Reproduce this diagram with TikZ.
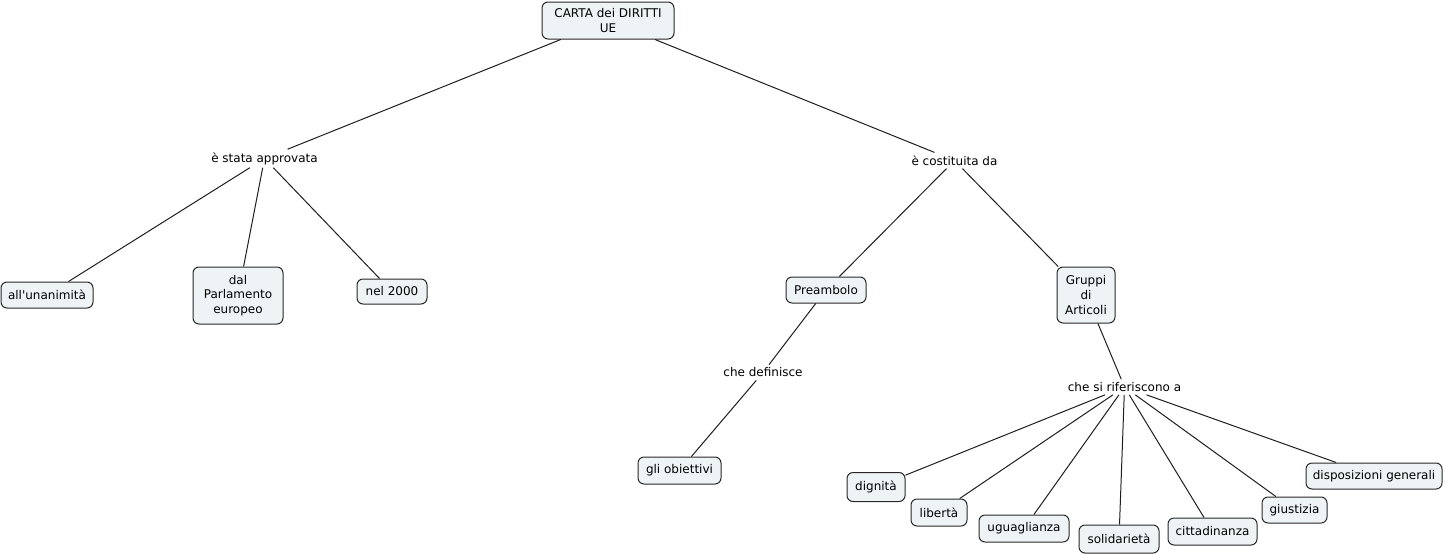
\documentclass[tikz,border=0pt]{standalone}
\usepackage{fontspec}
\newfontfamily\dvs{DejaVu Sans}
\definecolor{conceptfill}{RGB}{238,243,246}
\definecolor{conceptdraw}{RGB}{40,40,40}
\definecolor{linkcol}{RGB}{30,30,30}
\begin{document}
\begin{tikzpicture}[x=0.75pt,y=-0.75pt,
  every node/.style={font=\dvs\fontsize{9}{10.9}\selectfont},
  concept/.style={draw=conceptdraw,fill=conceptfill,rounded corners=4.5pt,line width=0.75pt,align=center,inner sep=0pt},
  sz/.style 2 args={minimum width=#1*0.75pt,minimum height=#2*0.75pt},
  linkphrase/.style={inner sep=2.2pt,align=center},
  conn/.style={draw=linkcol,line width=0.75pt}]
\useasboundingbox (0,0) rectangle (1445,554);
% concepts
\node[concept,sz={132}{37}] (carta) at (608,20.5) {CARTA dei DIRITTI\\UE};
\node[concept,sz={92}{26}] (unan) at (47,295) {all'unanimità};
\node[concept,sz={90}{57}] (parl) at (238,295.5) {dal\\Parlamento\\europeo};
\node[concept,sz={70}{25}] (nel) at (392,291.5) {nel 2000};
\node[concept,sz={80}{26}] (pream) at (826,290) {Preambolo};
\node[concept,sz={58}{56}] (gruppi) at (1086,295) {Gruppi\\di\\Articoli};
\node[concept,sz={83}{27}] (obiet) at (679.5,470.5) {gli obiettivi};
\node[concept,sz={58}{29}] (dign) at (876,487) {dignità};
\node[concept,sz={56}{27}] (lib) at (939,512.5) {libertà};
\node[concept,sz={90}{27}] (ugu) at (1024,528.5) {uguaglianza};
\node[concept,sz={80}{28}] (sol) at (1119,539) {solidarietà};
\node[concept,sz={89}{27}] (citt) at (1212.5,531.5) {cittadinanza};
\node[concept,sz={65}{26}] (giu) at (1294.5,510) {giustizia};
\node[concept,sz={136}{26}] (disp) at (1374,476) {disposizioni generali};
% linking phrases
\node[linkphrase] (appr) at (264.5,158.5) {è stata approvata};
\node[linkphrase] (cost) at (954.5,160.5) {è costituita da};
\node[linkphrase] (def) at (763,372.5) {che definisce};
\node[linkphrase] (rif) at (1124.5,387) {che si riferiscono a};
% connectors
\draw[conn] (carta) -- (appr);
\draw[conn] (carta) -- (cost);
\draw[conn] (appr) -- (unan);
\draw[conn] (appr) -- (parl);
\draw[conn] (appr) -- (nel);
\draw[conn] (cost) -- (pream);
\draw[conn] (cost) -- (gruppi);
\draw[conn] (pream) -- (def);
\draw[conn] (def) -- (obiet);
\draw[conn] (gruppi) -- (rif);
\foreach \t in {dign,lib,ugu,sol,citt,giu,disp}{\draw[conn] (rif) -- (\t);}
\end{tikzpicture}
\end{document}
